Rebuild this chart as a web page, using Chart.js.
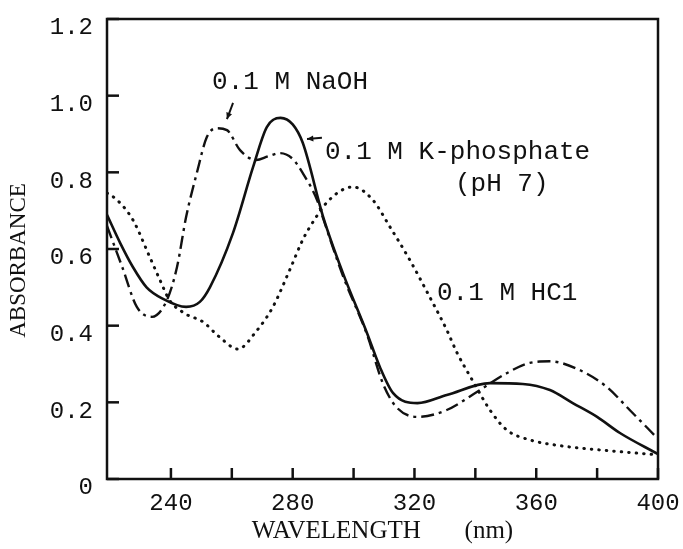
<!DOCTYPE html>
<html>
<head>
<meta charset="utf-8">
<script src="https://cdn.jsdelivr.net/npm/chart.js@4.4.1/dist/chart.umd.min.js"></script>
<style>
html,body{margin:0;padding:0;background:#fff}
#wrap{width:683px;height:549px;position:relative}
</style>
</head>
<body>
<div id="wrap"><canvas id="spectra"></canvas></div>
<script>

// 0.1 M K-phosphate (pH 7), solid
const phosNm = [219,223.3,227.5,232,237.4,245,249.5,252.8,260.4,267,271.5,276,280,283.3,290,296.5,304.4,308.6,313,321,330.6,344.8,355.6,364.5,372,380,387.5,400]
const phosAbs = [0.689,0.616,0.553,0.50,0.47,0.449,0.462,0.50,0.642,0.814,0.918,0.942,0.925,0.877,0.684,0.537,0.381,0.293,0.224,0.198,0.219,0.25,0.248,0.232,0.198,0.162,0.12,0.065]

// 0.1 M NaOH, dash-dot
const naohNm = [219,224,228.8,233.8,238.7,242,245,248.5,251.8,255,258.4,262.7,268,272,275.8,280,283.3,288,290,296.5,304.5,309.6,314,321,330.6,340.5,350.3,357.9,364.5,374.3,383.2,390.7,400]
const naohAbs = [0.66,0.553,0.449,0.423,0.467,0.553,0.684,0.798,0.892,0.915,0.91,0.858,0.832,0.842,0.85,0.835,0.798,0.728,0.68,0.53,0.375,0.25,0.188,0.162,0.18,0.227,0.276,0.303,0.307,0.284,0.24,0.18,0.105]

// 0.1 M HCl, dotted
const hclNm = [219,222.3,227.5,233,236.4,239.5,244.5,250.5,256,262,268,273.5,279,283.3,285.6,292,299.8,306.3,312,318.5,325,330.6,334,339,344.8,350.3,357.9,368.7,385,400]
const hclAbs = [0.746,0.728,0.676,0.58,0.519,0.467,0.432,0.41,0.37,0.339,0.385,0.449,0.545,0.624,0.657,0.728,0.762,0.728,0.657,0.571,0.475,0.389,0.329,0.258,0.18,0.128,0.102,0.086,0.073,0.063]

const xTicks = [240,260,280,300,320,340,360,380,400]
const xLabels = [240,280,320,360,400]
const yTicks = [0,0.2,0.4,0.6,0.8,1.0,1.2]

const ink = "#111"

// curve labels, placed in data units
const notes = [
{text:"0.1 M NaOH", x:253.5, y:1.036},
{text:"0.1 M K-phosphate", x:290.6, y:0.853},
{text:"(pH 7)", x:333.3, y:0.77},
{text:"0.1 M HC1", x:327.4, y:0.485}
]

const arrows = [
{from:[260.4,0.981], to:[258.4,0.939]},
{from:[289.6,0.89], to:[284.7,0.887]}
]

function pts(xs,ys){
return xs.map((x,i)=>({x:x,y:ys[i]}))
}

function noPad(s){
s.paddingTop=0
s.paddingBottom=0
s.paddingLeft=0
s.paddingRight=0
}

const frame = {

id:"frame",

afterDatasetsDraw(chart){

const {ctx, chartArea:a, scales:{x,y}} = chart

ctx.save()
ctx.strokeStyle=ink
ctx.lineWidth=2.5
ctx.strokeRect(a.left,a.top,a.right-a.left,a.bottom-a.top)

// ticks point inward
xTicks.forEach(v=>{
const px=x.getPixelForValue(v)
ctx.beginPath()
ctx.moveTo(px,a.bottom)
ctx.lineTo(px,a.bottom-11)
ctx.stroke()
})

yTicks.forEach(v=>{
const py=y.getPixelForValue(v)
ctx.beginPath()
ctx.moveTo(a.left,py)
ctx.lineTo(a.left+12,py)
ctx.stroke()
})

ctx.fillStyle=ink
ctx.font="26px 'Liberation Mono'"
ctx.textBaseline="middle"
ctx.textAlign="left"

notes.forEach(n=>{
ctx.fillText(n.text,x.getPixelForValue(n.x),y.getPixelForValue(n.y))
})

ctx.lineWidth=2
arrows.forEach(ar=>{
const x0=x.getPixelForValue(ar.from[0]), y0=y.getPixelForValue(ar.from[1])
const x1=x.getPixelForValue(ar.to[0]), y1=y.getPixelForValue(ar.to[1])
const ang=Math.atan2(y1-y0,x1-x0)
ctx.beginPath()
ctx.moveTo(x0,y0)
ctx.lineTo(x1,y1)
ctx.stroke()
ctx.beginPath()
ctx.moveTo(x1,y1)
ctx.lineTo(x1-7*Math.cos(ang-0.45),y1-7*Math.sin(ang-0.45))
ctx.lineTo(x1-7*Math.cos(ang+0.45),y1-7*Math.sin(ang+0.45))
ctx.closePath()
ctx.fill()
})

ctx.restore()

}

}

const line = {
borderColor:ink,
pointRadius:0,
fill:false,
cubicInterpolationMode:"monotone"
}

new Chart(document.getElementById("spectra"),{

type:"line",

data:{
datasets:[
{...line, label:"0.1 M K-phosphate (pH 7)", data:pts(phosNm,phosAbs), borderWidth:2.6},
{...line, label:"0.1 M NaOH", data:pts(naohNm,naohAbs), borderWidth:2.4, borderDash:[13,5,3,5]},
{...line, label:"0.1 M HCl", data:pts(hclNm,hclAbs), borderWidth:3, borderDash:[0.5,7], borderCapStyle:"round"}
]
},

options:{
responsive:true,
maintainAspectRatio:false,
animation:false,
layout:{padding:{top:19,right:25,left:0,bottom:0}},
plugins:{legend:{display:false}, tooltip:{enabled:false}},
scales:{
x:{
type:"linear",
min:219,
max:400,
afterBuildTicks:s=>{s.ticks=xTicks.map(v=>({value:v}))},
afterFit:s=>{s.height=70; noPad(s)},
grid:{display:false, drawTicks:false},
border:{display:false},
ticks:{color:ink, font:{family:"Liberation Mono", size:24}, padding:10, maxRotation:0, autoSkip:false,
callback:v=>xLabels.includes(v)?String(v):""},
title:{display:true, text:"WAVELENGTH       (nm)", color:ink, font:{family:"Liberation Serif", size:25}, padding:{top:0,bottom:3}}
},
y:{
min:0,
max:1.2,
afterBuildTicks:s=>{s.ticks=yTicks.map(v=>({value:v}))},
afterFit:s=>{s.width=107; noPad(s)},
grid:{display:false, drawTicks:false},
border:{display:false},
ticks:{color:ink, font:{family:"Liberation Mono", size:24}, padding:14, labelOffset:9,
callback:v=>v===0?"0":v.toFixed(1)},
title:{display:true, text:"ABSORBANCE    ", color:ink, font:{family:"Liberation Serif", size:23}, padding:{top:5,bottom:0}}
}
}
},

plugins:[frame]

})

</script>
</body>
</html>
